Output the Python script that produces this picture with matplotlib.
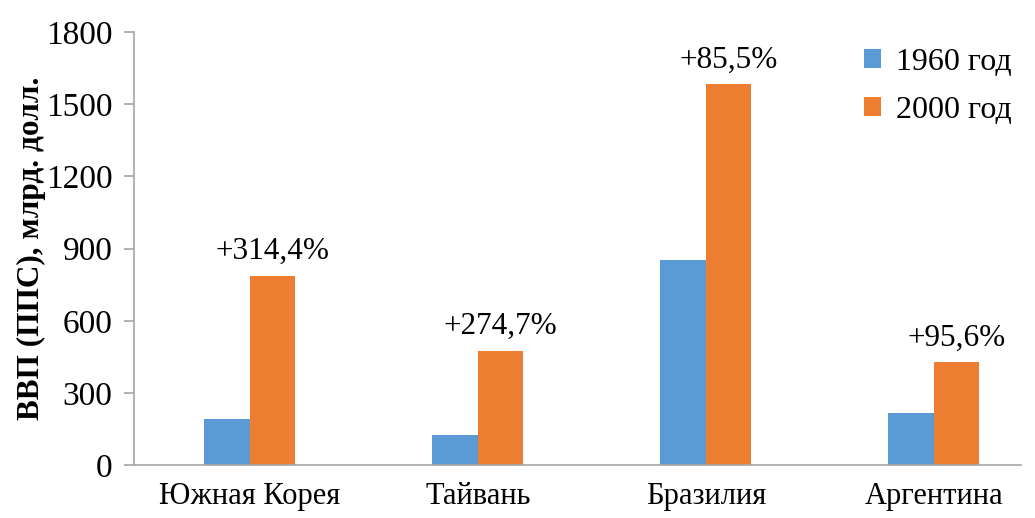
import matplotlib.pyplot as plt
import numpy as np

countries = ["Южная Корея", "Тайвань", "Бразилия", "Аргентина"]
gdp_1960 = [190, 127, 854, 218]
gdp_2000 = [787, 476, 1584, 427]
growth = ["+314,4%", "+274,7%", "+85,5%", "+95,6%"]

plt.rcParams['font.family'] = ['Liberation Serif', 'DejaVu Serif']

fig = plt.figure(figsize=(10.35, 5.18), dpi=100)
ax = fig.add_axes([0.129, 0.102, 0.857, 0.836])

x = np.arange(len(countries))
w = 0.2
ax.bar(x - 0.1, gdp_1960, width=w, color="#5B9BD5", label="1960 год")
bars = ax.bar(x + 0.1, gdp_2000, width=w, color="#ED7D31", label="2000 год")

# подписи прироста над оранжевыми столбцами
for b, txt in zip(bars, growth):
    ax.annotate(txt, (b.get_x() + b.get_width() / 2, b.get_height()),
                xytext=(0, 7), textcoords="offset points",
                ha="center", va="bottom", fontsize=22.5)

ax.set_xlim(-0.51, 3.38)
ax.set_ylim(0, 1800)
ax.set_yticks(range(0, 1801, 300))
ax.set_xticks(x)
ax.set_xticklabels(countries)
ax.tick_params(axis="x", length=0, labelsize=22, pad=12)
ax.tick_params(axis="y", length=7, width=1.2, color="#A6A6A6", labelsize=24, pad=8)

for s in ["top", "right"]:
    ax.spines[s].set_visible(False)
for s in ["left", "bottom"]:
    ax.spines[s].set_color("#A6A6A6")
    ax.spines[s].set_linewidth(1.2)

ax.set_ylabel("ВВП (ППС), млрд. долл.", fontsize=22.5, fontweight="bold", labelpad=0)

ax.legend(loc="upper right", bbox_to_anchor=(1.022, 1.03), frameon=False, fontsize=23,
          handlelength=0.55, handleheight=0.55, handletextpad=0.45, labelspacing=0.6)

fig.savefig("out.png", dpi=100)
